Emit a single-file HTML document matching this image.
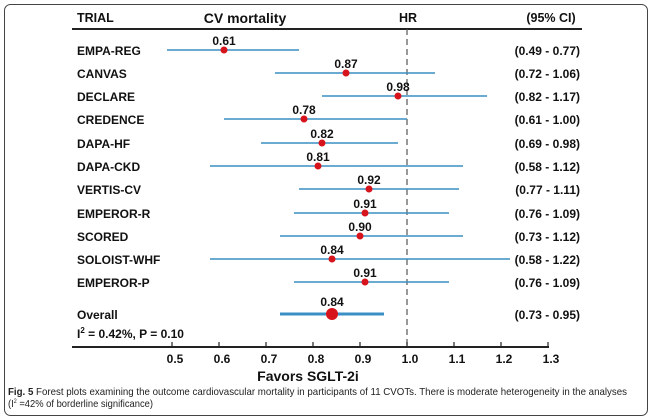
<!DOCTYPE html>
<html><head><meta charset="utf-8"><style>
html,body{margin:0;padding:0;background:#fff;}
svg{display:block;font-family:"Liberation Sans",Arial,sans-serif;}
</style></head><body>
<svg width="652" height="420" viewBox="0 0 652 420" xmlns="http://www.w3.org/2000/svg">
<rect x="4.5" y="4.5" width="643" height="411" rx="6" fill="#fff" stroke="#444" stroke-width="1"/>
<g font-weight="bold" font-size="12.5" fill="#111">
<text x="77" y="22">TRIAL</text>
<text x="245" y="23" text-anchor="middle" font-size="14">CV mortality</text>
<text x="408" y="22" text-anchor="middle">HR</text>
<text x="551" y="22" text-anchor="middle">(95% CI)</text>
</g>
<line x1="72" y1="29" x2="582" y2="29" stroke="#222" stroke-width="2"/>
<line x1="407" y1="29" x2="407" y2="347" stroke="#555" stroke-width="1.2" stroke-dasharray="6,4"/>
<g font-weight="bold" font-size="12" fill="#111">
<text x="77" y="55">EMPA-REG</text>
<text x="77" y="78">CANVAS</text>
<text x="77" y="101">DECLARE</text>
<text x="77" y="124">CREDENCE</text>
<text x="77" y="148">DAPA-HF</text>
<text x="77" y="171">DAPA-CKD</text>
<text x="77" y="194">VERTIS-CV</text>
<text x="77" y="218">EMPEROR-R</text>
<text x="77" y="241">SCORED</text>
<text x="77" y="264">SOLOIST-WHF</text>
<text x="77" y="287">EMPEROR-P</text>
<text x="77" y="319">Overall</text>
<text x="77" y="338">I<tspan font-size="8" dy="-5">2</tspan><tspan dy="5"> = 0.42%, P = 0.10</tspan></text>
<g text-anchor="end">
<text x="580" y="55">(0.49 - 0.77)</text>
<text x="580" y="78">(0.72 - 1.06)</text>
<text x="580" y="101">(0.82 - 1.17)</text>
<text x="580" y="124">(0.61 - 1.00)</text>
<text x="580" y="148">(0.69 - 0.98)</text>
<text x="580" y="171">(0.58 - 1.12)</text>
<text x="580" y="194">(0.77 - 1.11)</text>
<text x="580" y="218">(0.76 - 1.09)</text>
<text x="580" y="241">(0.73 - 1.12)</text>
<text x="580" y="264">(0.58 - 1.22)</text>
<text x="580" y="287">(0.76 - 1.09)</text>
<text x="580" y="319">(0.73 - 0.95)</text>
</g>
</g>
<g stroke="#3a8fc4" stroke-width="1.5">
<line x1="167" y1="50" x2="299" y2="50"/>
<line x1="275" y1="73" x2="435" y2="73"/>
<line x1="322" y1="96" x2="487" y2="96"/>
<line x1="224" y1="119" x2="407" y2="119"/>
<line x1="261" y1="143" x2="398" y2="143"/>
<line x1="210" y1="166" x2="463" y2="166"/>
<line x1="299" y1="189" x2="459" y2="189"/>
<line x1="294" y1="213" x2="449" y2="213"/>
<line x1="280" y1="236" x2="463" y2="236"/>
<line x1="210" y1="259" x2="510" y2="259"/>
<line x1="294" y1="282" x2="449" y2="282"/>
<line x1="280" y1="314" x2="384" y2="314" stroke-width="3"/>
</g>
<g fill="#d7141c">
<circle cx="224" cy="50" r="3.5"/>
<circle cx="346" cy="73" r="3.5"/>
<circle cx="398" cy="96" r="3.5"/>
<circle cx="304" cy="119" r="3.5"/>
<circle cx="322" cy="143" r="3.5"/>
<circle cx="318" cy="166" r="3.5"/>
<circle cx="369" cy="189" r="3.5"/>
<circle cx="365" cy="213" r="3.5"/>
<circle cx="360" cy="236" r="3.5"/>
<circle cx="332" cy="259" r="3.5"/>
<circle cx="365" cy="282" r="3.5"/>
<circle cx="332" cy="314" r="6"/>
</g>
<g font-weight="bold" font-size="12" fill="#111" text-anchor="middle">
<text x="224" y="45">0.61</text>
<text x="346" y="68">0.87</text>
<text x="398" y="91">0.98</text>
<text x="304" y="114">0.78</text>
<text x="322" y="138">0.82</text>
<text x="318" y="161">0.81</text>
<text x="369" y="184">0.92</text>
<text x="365" y="208">0.91</text>
<text x="360" y="231">0.90</text>
<text x="332" y="254">0.84</text>
<text x="365" y="277">0.91</text>
<text x="332" y="306">0.84</text>
</g>
<line x1="72" y1="347" x2="549" y2="347" stroke="#222" stroke-width="2"/>
<g stroke="#222" stroke-width="1.2">
<line x1="172" y1="342" x2="172" y2="347"/><line x1="219" y1="342" x2="219" y2="347"/>
<line x1="266" y1="342" x2="266" y2="347"/><line x1="313" y1="342" x2="313" y2="347"/>
<line x1="360" y1="342" x2="360" y2="347"/><line x1="407" y1="342" x2="407" y2="347"/>
<line x1="454" y1="342" x2="454" y2="347"/><line x1="501" y1="342" x2="501" y2="347"/>
<line x1="548" y1="342" x2="548" y2="347"/>
</g>
<g font-weight="bold" font-size="12" fill="#111" text-anchor="middle">
<text x="175" y="363">0.5</text><text x="222" y="363">0.6</text><text x="269" y="363">0.7</text>
<text x="316" y="363">0.8</text><text x="363" y="363">0.9</text><text x="410" y="363">1.0</text>
<text x="457" y="363">1.1</text><text x="504" y="363">1.2</text><text x="551" y="363">1.3</text>
<text x="308" y="381" font-size="14">Favors SGLT-2i</text>
</g>
<g font-size="10.5" fill="#222">
<text x="8" y="395" textLength="619" lengthAdjust="spacingAndGlyphs"><tspan font-weight="bold">Fig. 5</tspan>  Forest plots examining the outcome cardiovascular mortality in participants of 11 CVOTs. There is moderate heterogeneity in the analyses</text>
<text x="8" y="407" textLength="145" lengthAdjust="spacingAndGlyphs">(I<tspan font-size="6" dy="-4">2</tspan><tspan dy="4"> =42% of borderline significance)</tspan></text>
</g>
</svg>
</body></html>
